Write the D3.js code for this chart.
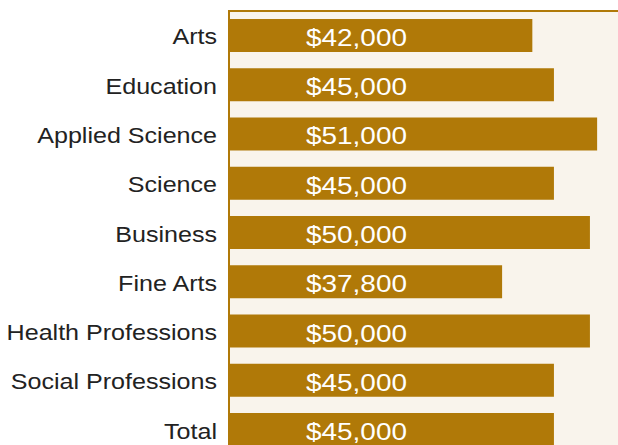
<!DOCTYPE html>
<html>
<head>
<meta charset="utf-8">
<script src="https://cdn.jsdelivr.net/npm/d3@7"></script>
<style>
  body { margin: 0; background: #fff; }
  svg { display: block; font-family: "Liberation Sans", Arial, sans-serif; }
</style>
</head>
<body>
<div id="chart"></div>
<script>
// median salary by faculty
var categories = ['Arts', 'Education', 'Applied Science', 'Science', 'Business',
                  'Fine Arts', 'Health Professions', 'Social Professions', 'Total'];
var salaries = [42000, 45000, 51000, 45000, 50000, 37800, 50000, 45000, 45000];

var width = 618;
var height = 445;
var gold = '#b07908';

var data = categories.map(function(c, i) {
    return {name: c, value: salaries[i]};
});

var svg = d3.select('#chart').append('svg')
    .attr('width', width)
    .attr('height', height);

var x = d3.scaleLinear()
    .domain([0, 53900])
    .range([230, width]);

var y = d3.scaleBand()
    .domain(categories)
    .range([19, 446])
    .paddingInner(0.33)
    .paddingOuter(0);

// plot background and frame
svg.append('rect')
    .attr('x', 230)
    .attr('y', 12)
    .attr('width', width - 230)
    .attr('height', height - 12)
    .style('fill', '#f9f4ec');

svg.append('line')
    .attr('x1', 228).attr('x2', width)
    .attr('y1', 11).attr('y2', 11)
    .style('stroke', gold)
    .style('stroke-width', 2);

svg.append('line')
    .attr('x1', 229).attr('x2', 229)
    .attr('y1', 10).attr('y2', height)
    .style('stroke', gold)
    .style('stroke-width', 2);

svg.selectAll('rect.bar')
    .data(data)
    .enter().append('rect')
        .attr('class', 'bar')
        .attr('x', x(0))
        .attr('y', function(d) { return y(d.name); })
        .attr('width', function(d) { return x(d.value) - x(0); })
        .attr('height', y.bandwidth())
        .style('fill', gold);

var fmt = d3.format('$,');

svg.selectAll('text.val')
    .data(data)
    .enter().append('text')
        .attr('class', 'val')
        .attr('transform', function(d) {
            return 'translate(306,' + (y(d.name) + y.bandwidth() / 2 + 10.5) + ') scale(1.14,1)';
        })
        .style('fill', '#fff')
        .style('font-size', '24.5px')
        .text(function(d) { return fmt(d.value); });

svg.selectAll('text.cat')
    .data(data)
    .enter().append('text')
        .attr('class', 'cat')
        .attr('transform', function(d) {
            return 'translate(217,' + (y(d.name) + y.bandwidth() / 2 + 9) + ') scale(1.14,1)';
        })
        .attr('text-anchor', 'end')
        .style('fill', '#222')
        .style('font-size', '22px')
        .text(function(d) { return d.name; });
</script>
</body>
</html>
